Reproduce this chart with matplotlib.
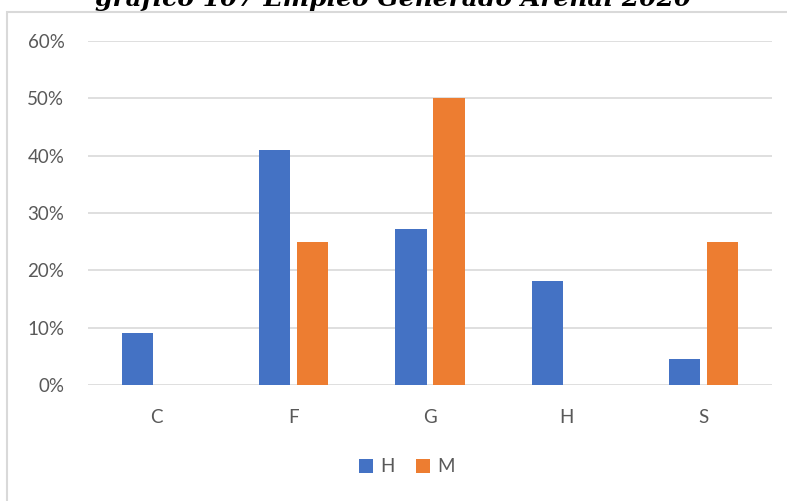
import matplotlib
matplotlib.use("Agg")
import matplotlib.pyplot as plt
import numpy as np
from matplotlib.patches import Rectangle, Patch

categories = ["C", "F", "G", "H", "S"]
series_names = ["H", "M"]
values_h = [0.0909, 0.4091, 0.2727, 0.1818, 0.0455]
values_m = [0.0, 0.25, 0.50, 0.0, 0.25]
yticks = [0, 0.1, 0.2, 0.3, 0.4, 0.5, 0.6]
ytick_labels = ["0%", "10%", "20%", "30%", "40%", "50%", "60%"]
title = "gráfico 107 Empleo Generado Arenal 2020"

colors = ["#4472C4", "#ED7D31"]
gray_text = "#595959"

plt.rcParams['font.family'] = ['Lato', 'DejaVu Sans']

W, H = 787, 501
fig = plt.figure(figsize=(W / 100, H / 100), dpi=100)

# chart frame
fig.patches.append(Rectangle((7 / W, -0.1), 1.2, 1 - 12 / H + 0.1,
                             transform=fig.transFigure, fill=False,
                             edgecolor="#d9d9d9", linewidth=1.5, zorder=0))

ax = fig.add_axes([88 / W, 116 / H, (772 - 88) / W, (460 - 116) / H])
x = np.arange(len(categories))
bw = 0.227
off = 0.139
ax.bar(x - off, values_h, width=bw, color=colors[0], zorder=3)
ax.bar(x + off, values_m, width=bw, color=colors[1], zorder=3)

ax.set_xlim(-0.5, len(categories) - 0.5)
ax.set_ylim(0, 0.6)
ax.set_yticks(yticks)
ax.set_yticklabels(ytick_labels)
ax.set_xticks(x)
ax.set_xticklabels(categories)
ax.tick_params(axis='y', length=0, pad=17, labelsize=13.5, labelcolor=gray_text)
ax.tick_params(axis='x', length=0, pad=17, labelsize=13.5, labelcolor=gray_text)
ax.grid(axis='y', color="#d9d9d9", linewidth=1.2, zorder=0)
for s in ax.spines.values():
    s.set_visible(False)

fig.text(0.5, 1 - 6 / H, title, ha='center', va='baseline',
         fontsize=18, fontweight='bold', fontstyle='italic',
         family=['DejaVu Serif'], color='black')

handles = [Patch(facecolor=c, edgecolor='none') for c in colors]
fig.legend(handles, series_names, loc='center', bbox_to_anchor=(407 / W, 1 - 467 / H),
           ncol=2, frameon=False, handlelength=0.75, handleheight=0.75,
           handletextpad=0.4, columnspacing=1.1, fontsize=13.5,
           labelcolor=gray_text)

fig.savefig("out.png", dpi=100)
